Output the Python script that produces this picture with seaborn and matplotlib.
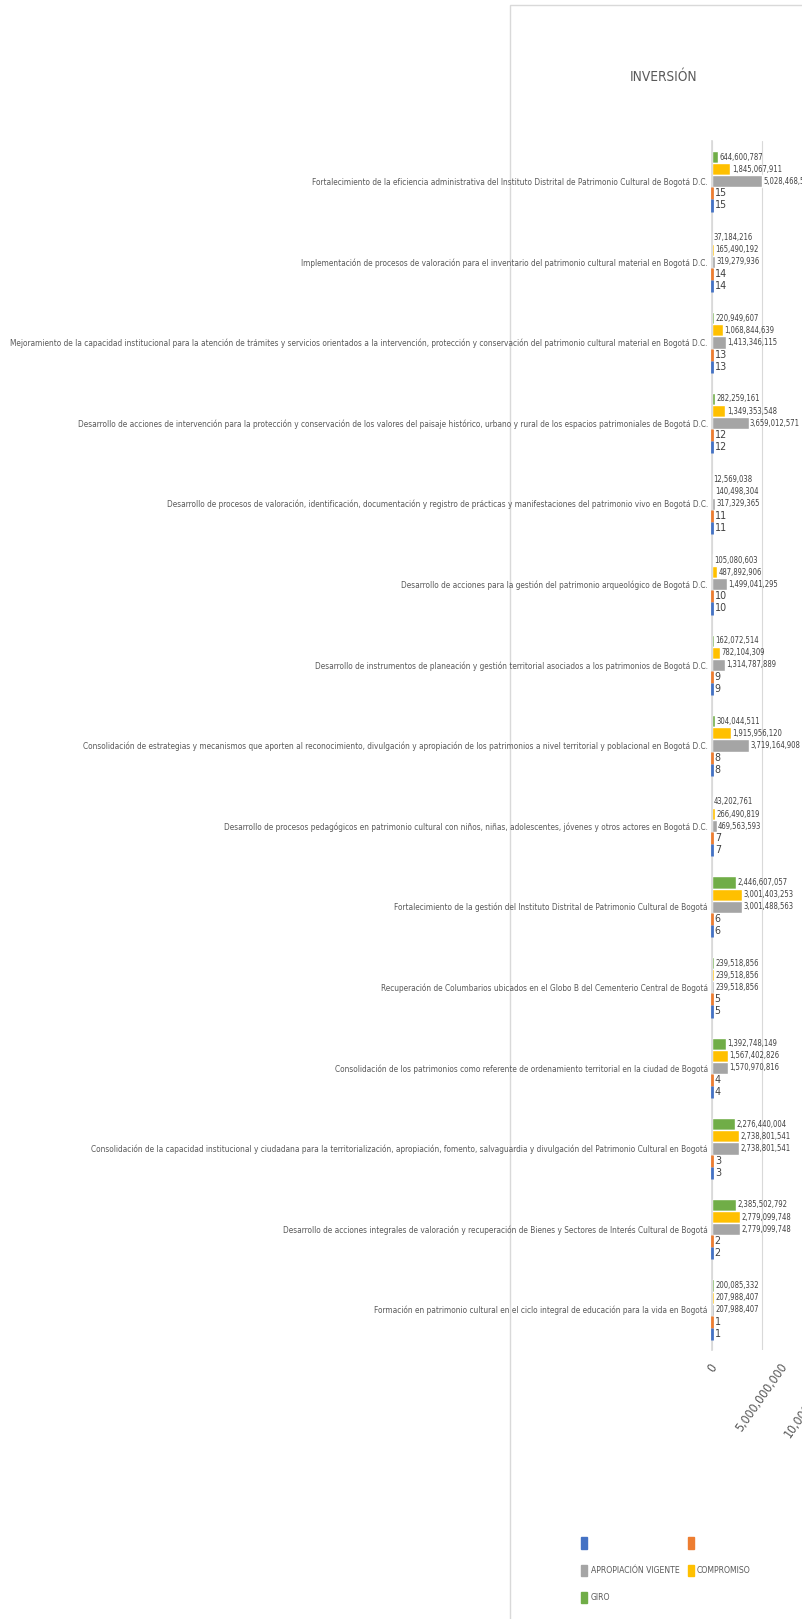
import matplotlib
matplotlib.use("Agg")
import matplotlib.pyplot as plt
from matplotlib import font_manager
from matplotlib.patches import Patch, Rectangle
import numpy as np
import pandas as pd
import seaborn as sns

# proyectos de inversion, del 1 (abajo) al 15 (arriba)
proyectos = [
    "Formación en patrimonio cultural en el ciclo integral de educación para la vida en Bogotá",
    "Desarrollo de acciones integrales de valoración y recuperación de Bienes y Sectores de Interés Cultural de Bogotá",
    "Consolidación de la capacidad institucional y ciudadana para la territorialización, apropiación, fomento, salvaguardia y divulgación del Patrimonio Cultural en Bogotá",
    "Consolidación de los patrimonios como referente de ordenamiento territorial en la ciudad de Bogotá",
    "Recuperación de Columbarios ubicados en el Globo B del Cementerio Central de Bogotá",
    "Fortalecimiento de la gestión del Instituto Distrital de Patrimonio Cultural de Bogotá",
    "Desarrollo de procesos pedagógicos en patrimonio cultural con niños, niñas, adolescentes, jóvenes y otros actores en Bogotá D.C.",
    "Consolidación de estrategias y mecanismos que aporten al reconocimiento, divulgación y apropiación de los patrimonios a nivel territorial y poblacional en Bogotá D.C.",
    "Desarrollo de instrumentos de planeación y gestión territorial asociados a los patrimonios de Bogotá D.C.",
    "Desarrollo de acciones para la gestión del patrimonio arqueológico de Bogotá D.C.",
    "Desarrollo de procesos de valoración, identificación, documentación y registro de prácticas y manifestaciones del patrimonio vivo en Bogotá D.C.",
    "Desarrollo de acciones de intervención para la protección y conservación de los valores del paisaje histórico, urbano y rural de los espacios patrimoniales de Bogotá D.C.",
    "Mejoramiento de la capacidad institucional para la atención de trámites y servicios orientados a la intervención, protección y conservación del patrimonio cultural material en Bogotá D.C.",
    "Implementación de procesos de valoración para el inventario del patrimonio cultural material en Bogotá D.C.",
    "Fortalecimiento de la eficiencia administrativa del Instituto Distrital de Patrimonio Cultural de Bogotá D.C.",
]
numero = [1, 2, 3, 4, 5, 6, 7, 8, 9, 10, 11, 12, 13, 14, 15]
apropiacion = [207988407, 2779099748, 2738801541, 1570970816, 239518856,
               3001488563, 469563593, 3719164908, 1314787889, 1499041295,
               317329365, 3659012571, 1413346115, 319279936, 5028468580]
compromiso = [207988407, 2779099748, 2738801541, 1567402826, 239518856,
              3001403253, 266490819, 1915956120, 782104309, 487892906,
              140498304, 1349353548, 1068844639, 165490192, 1845067911]
giro = [200085332, 2385502792, 2276440004, 1392748149, 239518856,
        2446607057, 43202761, 304044511, 162072514, 105080603,
        12569038, 282259161, 220949607, 37184216, 644600787]

colores = {"s1": "#4472C4", "s2": "#ED7D31", "APROPIACIÓN VIGENTE": "#A5A5A5",
           "COMPROMISO": "#FFC000", "GIRO": "#70AD47"}
hue_order = ["GIRO", "COMPROMISO", "APROPIACIÓN VIGENTE", "s2", "s1"]

sns.set_theme(style="white")

# fuente angosta si existe
fuentes = {(f.name, str(f.stretch)) for f in font_manager.fontManager.ttflist}
nombres = {n for n, s in fuentes}
if "Liberation Sans Narrow" in nombres:
    fam, stretch = "Liberation Sans Narrow", "normal"
elif ("DejaVu Sans", "condensed") in fuentes:
    fam, stretch = "DejaVu Sans", "condensed"
else:
    fam, stretch = "DejaVu Sans", "normal"
plt.rcParams["font.family"] = [fam, "DejaVu Sans"]
plt.rcParams["font.stretch"] = stretch

rows = []
for i, p in enumerate(proyectos):
    rows.append((p, "s1", numero[i]))
    rows.append((p, "s2", numero[i]))
    rows.append((p, "APROPIACIÓN VIGENTE", apropiacion[i]))
    rows.append((p, "COMPROMISO", compromiso[i]))
    rows.append((p, "GIRO", giro[i]))
df = pd.DataFrame(rows, columns=["proyecto", "serie", "valor"])
orden = proyectos[::-1]

W, H = 802, 1619
fig = plt.figure(figsize=(W / 100, H / 100), dpi=100)
renderer = fig.canvas.get_renderer()


def fit_size(s, target_px):
    t = fig.text(0, 0, s, fontsize=10)
    w = t.get_window_extent(renderer).width
    t.remove()
    return 10 * target_px / w


fs_cat = fit_size(proyectos[12], 700)
fs_val = fit_size("1,845,067,911", 50)
fs_leg = fit_size("APROPIACIÓN VIGENTE", 90)
fs_tit = fit_size("INVERSIÓN", 68)
fs_tick = fit_size("5,000,000,000", 82)

ax = fig.add_axes([712 / W, 1 - 1350 / H, 150 / W, (1350 - 141) / H])
sns.barplot(data=df, x="valor", y="proyecto", hue="serie", order=orden,
            hue_order=hue_order, palette=colores, width=0.75, orient="h",
            saturation=1, errorbar=None, legend=False, ax=ax)

datos = {"s1": numero, "s2": numero, "APROPIACIÓN VIGENTE": apropiacion,
         "COMPROMISO": compromiso, "GIRO": giro}
for serie, cont in zip(hue_order, ax.containers):
    vals = datos[serie][::-1]
    if serie in ("s1", "s2"):
        for b in cont:
            b.set_edgecolor(colores[serie])
            b.set_linewidth(2.0)
            b.set_zorder(4)
            b.set_clip_on(False)
        labs = [str(v) for v in vals]
        ax.bar_label(cont, labels=labs, padding=2, fontsize=fs_val * 1.4,
                     color="#404040")
    else:
        labs = [f"{v:,}" for v in vals]
        ax.bar_label(cont, labels=labs, padding=1, fontsize=fs_val,
                     color="#404040")

ax.set_xlim(0, 15e9)
ax.set_xticks([0, 5e9, 10e9])
ax.set_xticklabels(["0", "5,000,000,000", "10,000,000,000"], rotation=55,
                   ha="center", va="top", fontsize=fs_tick, color="#595959")
ax.tick_params(axis="both", length=0)
ax.tick_params(axis="y", pad=3, labelsize=fs_cat, labelcolor="#595959")
ax.tick_params(axis="x", pad=8)
ax.xaxis.grid(True, color="#D9D9D9", lw=0.8)
ax.set_axisbelow(True)
for s in ["top", "right", "bottom"]:
    ax.spines[s].set_visible(False)
ax.spines["left"].set_color("#D9D9D9")
ax.set_xlabel("")
ax.set_ylabel("")

fig.text(664 / W, 1 - 77 / H, "INVERSIÓN", fontsize=fs_tit, color="#595959",
         ha="center", va="center")

# borde del area del grafico
fig.add_artist(Rectangle((510 / W, -0.01), 1.0, 1 - 5 / H + 0.01,
                         transform=fig.transFigure, fill=False,
                         edgecolor="#D9D9D9", lw=1, zorder=0))

handles = [Patch(color=colores["s1"]), Patch(color=colores["APROPIACIÓN VIGENTE"]),
           Patch(color=colores["GIRO"]), Patch(color=colores["s2"]),
           Patch(color=colores["COMPROMISO"])]
labels = ["", "APROPIACIÓN VIGENTE", "GIRO", "", "COMPROMISO"]
fs_px = fs_leg * 100 / 72
fig.legend(handles, labels, loc="upper left", bbox_to_anchor=(577 / W, 1 - 1533 / H),
           ncol=2, frameon=False, fontsize=fs_leg, handlelength=6 / fs_px,
           handleheight=14 / fs_px, handletextpad=0.4, borderpad=0,
           labelspacing=(30 - 14) / fs_px, columnspacing=8 / fs_px,
           labelcolor="#595959")

fig.savefig("out.png", dpi=100)
